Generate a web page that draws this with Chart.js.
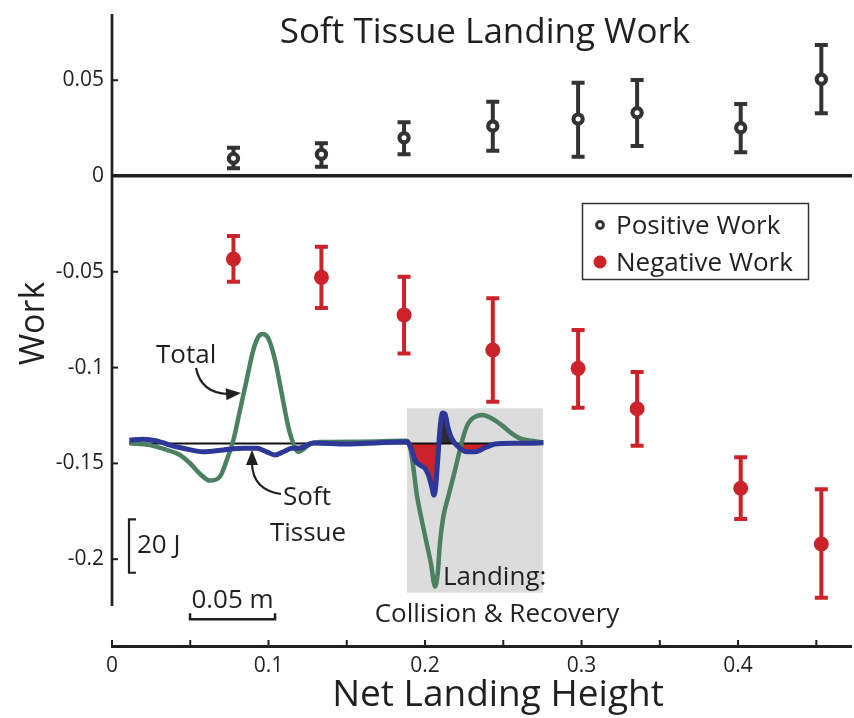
<!DOCTYPE html>
<html>
<head>
<meta charset="utf-8">
<title>Soft Tissue Landing Work</title>
<script src="https://cdn.jsdelivr.net/npm/chart.js@4.4.1/dist/chart.umd.min.js"></script>
<style>
  html, body { margin: 0; padding: 0; background: #fff; }
  #WorkChart { display: block; }
</style>
</head>
<body>
<canvas id="WorkChart" width="854" height="718"></canvas>
<script>
// net landing height of each condition
const heights = [0.0776, 0.1338, 0.1866, 0.2433, 0.2978, 0.3355, 0.4017, 0.4532];

// positive work (mean, upper, lower)
const posWork = [0.0092, 0.0113, 0.0200, 0.0261, 0.0297, 0.0330, 0.0252, 0.0505];
const posHi   = [0.0148, 0.0171, 0.0280, 0.0388, 0.0487, 0.0501, 0.0376, 0.0684];
const posLo   = [0.0040, 0.0048, 0.0113, 0.0132, 0.0101, 0.0157, 0.0124, 0.0327];

// negative work (mean, upper, lower)
const negWork = [-0.0433, -0.0529, -0.0725, -0.0908, -0.1004, -0.1215, -0.1630, -0.1921];
const negHi   = [-0.0313, -0.0369, -0.0526, -0.0638, -0.0804, -0.1023, -0.1468, -0.1635];
const negLo   = [-0.0552, -0.0689, -0.0926, -0.1178, -0.1209, -0.1408, -0.1790, -0.2201];

const xTicks = [0, 0.1, 0.2, 0.3, 0.4];
const xTickMarks = [0, 0.05, 0.1, 0.15, 0.2, 0.25, 0.3, 0.35, 0.4, 0.45];
const yTicks = [-0.2, -0.15, -0.1, -0.05, 0, 0.05];
const yTickLabels = ['-0.2', '-0.15', '-0.1', '-0.05', '0', '0.05'];

// inset trace: distance (m) vs work (J)
const totalX = [0.0102, 0.0224, 0.0322, 0.0400, 0.0459, 0.0518, 0.0576, 0.0635, 0.0675, 0.0714,
                0.0753, 0.0792, 0.0831, 0.0861, 0.0886, 0.0919, 0.0959, 0.0998, 0.1037, 0.1066,
                0.1096, 0.1125, 0.1165, 0.1224, 0.1459, 0.1734, 0.1753, 0.1772, 0.1792, 0.1822,
                0.1851, 0.1876, 0.1900, 0.1916, 0.1929, 0.1949, 0.1978, 0.2008, 0.2037, 0.2066,
                0.2096, 0.2135, 0.2178, 0.2234, 0.2292, 0.2351, 0.2400, 0.2469, 0.2537];
const totalJ = [0.1, -0.6, -2.4, -4.3, -7.4, -11.4, -13.9, -12.4, -6.2, 1.3,
                12.5, 23.8, 35.0, 40.0, 41.0, 39.4, 31.3, 18.8, 6.3, 0.1,
                -3.1, -2.2, -0.2, 0.6, 0.7, 1.0, -1.2, -8.7, -18.7, -28.7,
                -37.4, -44.9, -53.6, -48.6, -37.4, -27.4, -19.9, -12.4, -4.9, 2.5,
                7.6, 10.0, 10.7, 9.4, 6.9, 3.8, 1.9, 1.0, 0.4];

const softX = [0.0102, 0.0184, 0.0263, 0.0341, 0.0419, 0.0537, 0.0655, 0.0772, 0.0851, 0.0910,
               0.0959, 0.1008, 0.1057, 0.1106, 0.1184, 0.1381, 0.1576, 0.1734, 0.1763, 0.1782,
               0.1812, 0.1841, 0.1861, 0.1881, 0.1894, 0.1904, 0.1916, 0.1929, 0.1943, 0.1959,
               0.1975, 0.1998, 0.2037, 0.2086, 0.2135, 0.2194, 0.2253, 0.2351, 0.2449, 0.2537];
const softJ = [1.3, 1.6, 1.0, -0.6, -1.8, -3.1, -2.4, -1.8, -1.8, -3.1,
               -4.3, -3.1, -1.8, -1.7, 0.2, -0.2, 0.3, 0.7, -2.4, -6.2,
               -8.1, -9.3, -11.8, -16.2, -19.3, -16.2, -6.2, 5.1, 11.4, 11.0,
               6.3, 1.9, -1.2, -3.1, -3.1, -1.6, -0.2, 0.1, 0.1, 0.3];

// landing window (m) and its shaded extent (J)
const landingX = [0.1734, 0.2535];
const landingJ = [13.2, -55.9];
const landingFillEnd = 0.2253;

const FONT = '"Open Sans", "DejaVu Sans", sans-serif';
const INK = '#231f20';
const DARK = '#333333';
const RED = '#cc2229';
const GREEN = '#4b8061';
const BLUE = '#2d3797';

function pts(xs, ys) {
    return xs.map((x, i) => ({x: x, y: ys[i]}));
}

const landingFill = pts(softX, softJ).filter(p => p.x >= landingX[0] && p.x <= landingFillEnd);

function text(ctx, s, x, y, size, align) {
    ctx.font = size + 'px ' + FONT;
    ctx.textAlign = align || 'left';
    ctx.textBaseline = 'alphabetic';
    ctx.fillStyle = INK;
    ctx.fillText(s, x, y);
}

function head(ctx, tx, ty, ang, len, half) {
    ctx.beginPath();
    ctx.moveTo(tx, ty);
    ctx.lineTo(tx - len * Math.cos(ang) - half * Math.sin(ang), ty - len * Math.sin(ang) + half * Math.cos(ang));
    ctx.lineTo(tx - len * Math.cos(ang) + half * Math.sin(ang), ty - len * Math.sin(ang) - half * Math.cos(ang));
    ctx.closePath();
    ctx.fill();
}

function errorBars(ctx, xs, lo, hi, color, sx, sy) {
    ctx.save();
    ctx.strokeStyle = color;
    ctx.lineWidth = 4;
    for (let i = 0; i < xs.length; i++) {
        const px = sx.getPixelForValue(xs[i]);
        const top = sy.getPixelForValue(hi[i]);
        const bot = sy.getPixelForValue(lo[i]);
        ctx.beginPath();
        ctx.moveTo(px, top);
        ctx.lineTo(px, bot);
        ctx.moveTo(px - 6.5, top);
        ctx.lineTo(px + 6.5, top);
        ctx.moveTo(px - 6.5, bot);
        ctx.lineTo(px + 6.5, bot);
        ctx.stroke();
    }
    ctx.restore();
}

// chart.js reserves half a label beside each axis end; this plot has none
function noPad(s) {
    s.paddingTop = 0;
    s.paddingBottom = 0;
    s.paddingLeft = 0;
    s.paddingRight = 0;
}

const paperInk = {
    id: 'paperInk',
    beforeDatasetsDraw(chart) {
        const ctx = chart.ctx;
        const s = chart.scales;
        errorBars(ctx, heights, posLo, posHi, DARK, s.x, s.y);
        errorBars(ctx, heights, negLo, negHi, RED, s.x, s.y);
    },
    afterDraw(chart) {
        const ctx = chart.ctx;
        const a = chart.chartArea;
        const sx = chart.scales.x, sy = chart.scales.y;
        const xi = chart.scales.xi, yi = chart.scales.yi;
        ctx.save();

        // detached axes with inward ticks
        ctx.strokeStyle = INK;
        ctx.lineWidth = 2.7;
        const x0 = sx.getPixelForValue(0);
        ctx.beginPath();
        ctx.moveTo(x0, sy.getPixelForValue(0.0846));
        ctx.lineTo(x0, sy.getPixelForValue(-0.2244));
        ctx.stroke();
        ctx.lineWidth = 2;
        yTicks.forEach(v => {
            const py = sy.getPixelForValue(v);
            ctx.beginPath();
            ctx.moveTo(x0, py);
            ctx.lineTo(x0 + 6, py);
            ctx.stroke();
        });
        ctx.lineWidth = 3;
        ctx.beginPath();
        ctx.moveTo(x0 - 1, a.bottom - 1.5);
        ctx.lineTo(a.right, a.bottom - 1.5);
        ctx.stroke();
        ctx.lineWidth = 2;
        xTickMarks.forEach(v => {
            const px = sx.getPixelForValue(v);
            ctx.beginPath();
            ctx.moveTo(px, a.bottom - 1.5);
            ctx.lineTo(px, a.bottom - 8);
            ctx.stroke();
        });

        // titles
        text(ctx, 'Soft Tissue Landing Work', 485, 43, 35, 'center');
        text(ctx, 'Net Landing Height', 498, 706, 37, 'center');
        ctx.save();
        ctx.translate(44, 323.5);
        ctx.rotate(-Math.PI / 2);
        text(ctx, 'Work', 0, 0, 34, 'center');
        ctx.restore();

        // legend
        ctx.strokeStyle = DARK;
        ctx.lineWidth = 1.5;
        ctx.strokeRect(582.5, 203.5, 226, 76);
        ctx.beginPath();
        ctx.arc(600, 225, 3.4, 0, Math.PI * 2);
        ctx.fillStyle = '#fff';
        ctx.fill();
        ctx.lineWidth = 3;
        ctx.strokeStyle = DARK;
        ctx.stroke();
        ctx.beginPath();
        ctx.arc(600, 262, 6.5, 0, Math.PI * 2);
        ctx.fillStyle = RED;
        ctx.fill();
        text(ctx, 'Positive Work', 616, 234, 26);
        text(ctx, 'Negative Work', 616, 271, 26);

        // inset labels and arrows
        text(ctx, 'Total', 156, 363, 26);
        text(ctx, 'Soft', 307, 505, 26, 'center');
        text(ctx, 'Tissue', 308, 541, 26, 'center');
        text(ctx, 'Landing:', 443, 585, 26);
        text(ctx, 'Collision & Recovery', 497, 622, 26, 'center');
        ctx.strokeStyle = INK;
        ctx.fillStyle = INK;
        ctx.lineWidth = 2.2;
        ctx.beginPath();
        ctx.moveTo(196, 368);
        ctx.quadraticCurveTo(201, 393, 228, 394);
        ctx.stroke();
        head(ctx, 241, 393, -0.08, 15, 6);
        ctx.beginPath();
        ctx.moveTo(281, 494);
        ctx.quadraticCurveTo(253, 490, 252, 464);
        ctx.stroke();
        head(ctx, 252, 450, -Math.PI / 2, 15, 6);

        // scale bars drawn on the inset scales
        const bx = xi.getPixelForValue(0.0100);
        const bt = yi.getPixelForValue(-28.4);
        const bb = yi.getPixelForValue(-48.4);
        ctx.beginPath();
        ctx.moveTo(bx + 7, bt);
        ctx.lineTo(bx, bt);
        ctx.lineTo(bx, bb);
        ctx.lineTo(bx + 7, bb);
        ctx.stroke();
        text(ctx, '20 J', bx + 8, 553, 26);
        const m0 = xi.getPixelForValue(0.0459);
        const m1 = xi.getPixelForValue(0.0959);
        const my = yi.getPixelForValue(-65.8);
        ctx.lineWidth = 2.5;
        ctx.beginPath();
        ctx.moveTo(m0, my - 6);
        ctx.lineTo(m0, my);
        ctx.lineTo(m1, my);
        ctx.lineTo(m1, my - 6);
        ctx.stroke();
        text(ctx, '0.05 m', (m0 + m1) / 2, 608, 26, 'center');

        ctx.restore();
    }
};

const ctx = document.getElementById('WorkChart');

const c = new Chart(ctx, {
    type: 'line',
    data: {
        datasets: [{
            label: 'Positive Work',
            data: pts(heights, posWork),
            showLine: false,
            pointRadius: 4.6,
            pointBorderWidth: 4.2,
            pointBorderColor: DARK,
            pointBackgroundColor: '#fff',
            order: 0
        }, {
            label: 'Negative Work',
            data: pts(heights, negWork),
            showLine: false,
            pointRadius: 7.5,
            pointBorderWidth: 0,
            pointBackgroundColor: RED,
            order: 1
        }, {
            label: 'Soft Tissue',
            data: pts(softX, softJ),
            xAxisID: 'xi', yAxisID: 'yi',
            borderColor: BLUE,
            borderWidth: 5,
            pointRadius: 0,
            cubicInterpolationMode: 'monotone',
            order: 2
        }, {
            label: 'Total',
            data: pts(totalX, totalJ),
            xAxisID: 'xi', yAxisID: 'yi',
            borderColor: GREEN,
            borderWidth: 4.5,
            pointRadius: 0,
            cubicInterpolationMode: 'monotone',
            order: 3
        }, {
            label: 'baseline',
            data: [{x: totalX[0], y: 0}, {x: totalX[totalX.length - 1], y: 0}],
            xAxisID: 'xi', yAxisID: 'yi',
            borderColor: '#111',
            borderWidth: 2,
            pointRadius: 0,
            order: 4
        }, {
            label: 'landing fill',
            data: landingFill,
            xAxisID: 'xi', yAxisID: 'yi',
            borderWidth: 0,
            borderColor: 'rgba(0,0,0,0)',
            pointRadius: 0,
            cubicInterpolationMode: 'monotone',
            fill: {target: {value: 0}, above: '#2b2b2b', below: RED},
            order: 5
        }, {
            label: 'landing window',
            data: [{x: landingX[0], y: landingJ[0]}, {x: landingX[1], y: landingJ[0]}],
            xAxisID: 'xi', yAxisID: 'yi',
            borderWidth: 0,
            borderColor: 'rgba(0,0,0,0)',
            backgroundColor: '#dcdcdc',
            pointRadius: 0,
            fill: {value: landingJ[1]},
            order: 6
        }]
    },
    options: {
        responsive: false,
        animation: false,
        events: [],
        layout: {autoPadding: false, padding: {top: 14, right: 2, bottom: 0, left: 0}},
        plugins: {
            legend: {display: false},
            tooltip: {enabled: false},
            title: {display: false}
        },
        scales: {
            x: {
                type: 'linear',
                min: 0,
                max: 0.4728,
                afterFit: s => { s.height = 70; noPad(s); },
                afterBuildTicks: s => { s.ticks = xTicks.map(v => ({value: v})); },
                border: {display: false},
                grid: {display: false, drawTicks: false},
                ticks: {
                    padding: 5,
                    color: INK,
                    font: {family: FONT, size: 21},
                    maxRotation: 0,
                    callback: v => String(v)
                }
            },
            y: {
                type: 'linear',
                min: -0.24635,
                max: 0.08455,
                afterFit: s => { s.width = 112; noPad(s); },
                afterBuildTicks: s => { s.ticks = yTicks.map(v => ({value: v})); },
                border: {display: false},
                grid: {
                    drawTicks: false,
                    lineWidth: 3.5,
                    color: g => (g.tick && g.tick.value === 0) ? INK : 'rgba(0,0,0,0)'
                },
                ticks: {
                    padding: 8,
                    color: INK,
                    font: {family: FONT, size: 21},
                    callback: (v, i) => yTickLabels[i]
                }
            },
            // inset trace axes: metres across, joules up, not drawn
            xi: {type: 'linear', axis: 'x', position: 'bottom', display: false, min: 0, max: 0.43529,
                 ticks: {display: false}, afterFit: noPad},
            yi: {type: 'linear', axis: 'y', position: 'left', display: false, min: -76.59, max: 160.86,
                 ticks: {display: false}, afterFit: noPad}
        }
    },
    plugins: [paperInk]
});
</script>
</body>
</html>
